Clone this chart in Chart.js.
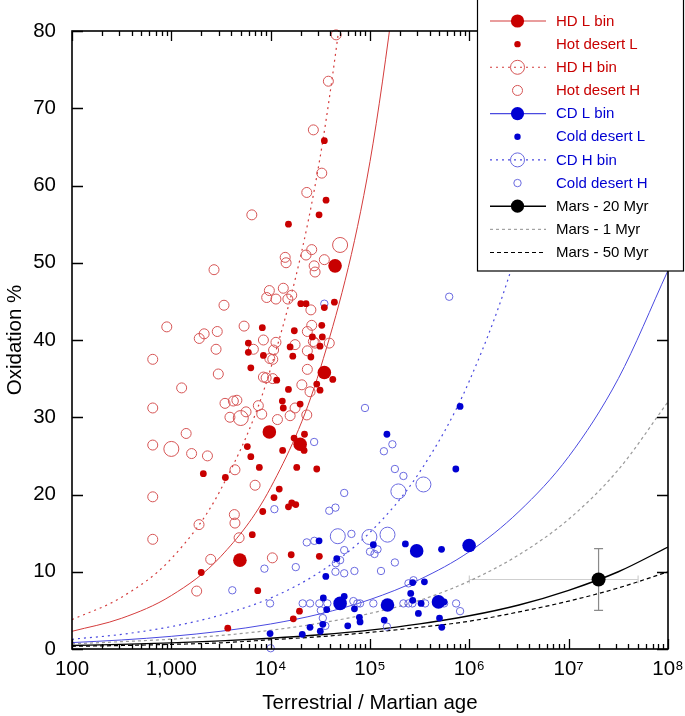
<!DOCTYPE html>
<html><head><meta charset="utf-8">
<script src="https://cdn.jsdelivr.net/npm/chart.js@4.4.1/dist/chart.umd.min.js"></script>
<style>html,body{margin:0;padding:0;background:#fff}#wrap{width:685px;height:716px;position:relative}</style>
</head><body><div id="wrap"><canvas id="c" width="685" height="716"></canvas></div>
<script>
// ---------- tick labels ----------
const xTickValues = [100, 1000, 1e4, 1e5, 1e6, 1e7, 1e8];
const xTickLabels = ['100', '1,000', '10\u2074', '10\u2075', '10\u2076', '10\u2077', '10\u2078'];
const yTickValues = [0, 10, 20, 30, 40, 50, 60, 70, 80];

// ---------- Hot desert H (open red) ----------
const hotHAge = [45600,38100,26900,32700,23100,6460,25900,22700,14000,14300,27400,28000,34700,2690,9700,13400,9120,11300,16300,14900,3390,25400,900,1910,2140,2900,5400,8450,11300,25900,23400,26900,38900,17600,2820,650,1270,650,650,1410,1600,2310,2970,3470,4210,4570,3890,5650,4370,7510,6700,10700,10500,9800,8450,9000,10500,8130,11700,15700,17600,23100,20600,24900,23400,23400,28000,6970,650,650,4310,4370,1900,4810,2490,10400,1800];
const hotHOx  = [79.5,73.5,67.2,61.6,59.1,56.2,51.7,51.0,50.7,50.0,49.6,48.8,50.4,49.1,46.4,46.7,45.5,45.3,45.8,45.3,44.5,43.9,41.7,40.2,40.8,41.1,41.8,40.0,39.7,41.9,41.1,39.8,39.6,39.4,38.8,37.5,33.8,31.2,26.4,27.9,25.3,25.0,35.6,31.8,32.1,32.2,30.0,30.7,23.2,31.5,38.8,38.7,37.5,37.6,35.2,35.1,35.0,30.4,29.7,30.2,31.2,30.3,34.2,33.3,36.2,38.6,39.6,21.2,19.7,14.2,17.4,16.3,16.1,14.4,11.6,11.8,7.5];

// ---------- Hot desert L (filled red) ----------
const hotLAge = [34700,36100,30700,15100,43800,20100,22700,34700,8240,17300,32700,26300,33100,5960,15700,31400,5960,8450,6310,16700,25400,11500,15100,29100,31400,42200,13100,13400,19800,17200,21900,21700,13200,5820,6310,7690,2100,3500,18300,29100,12200,10800,8320,15100,16300,17900,6530,2000,16100,30900,7410,3700,19500,16900];
const hotLOx  = [65.8,58.1,56.2,55.0,44.9,44.7,44.7,44.2,41.6,41.2,41.9,40.4,40.4,39.6,39.1,39.2,38.4,38.0,36.4,37.9,37.8,34.8,33.6,34.3,33.5,34.9,32.1,31.2,31.7,27.3,27.8,25.7,25.7,26.2,24.9,23.5,22.7,22.2,23.5,23.3,20.7,19.6,17.8,18.4,18.9,18.7,14.8,9.9,12.2,12.0,7.55,2.7,4.9,3.9];

// ---------- HD bins ----------
const hdLBinAge = [4900, 9700, 19800, 34700, 44500];
const hdLBinOx  = [11.5, 28.1, 26.5, 35.8, 49.6];
const hdHBinAge = [1000, 5000, 50000];
const hdHBinOx  = [25.9, 29.9, 52.3];

// ---------- Cold desert H (open blue) ----------
const coldHAge = [89000,168000,138000,178000,217000,55000,38900,44900,10900,27400,23100,65000,55000,8650,17900,45300,50000,44900,55000,69700,100000,111000,119000,178000,129000,9860,21000,24900,30900,37200,32000,33500,35500,68000,74600,79400,108000,217000,244000,267000,274000,244000,148000,736000,807000,557000,10000,27500,4110,359000,627000,34700];
const coldHOx  = [31.2,26.5,25.6,23.3,22.4,20.2,17.9,18.3,18.1,26.8,13.8,14.9,12.8,10.4,10.6,11.1,11.5,10.0,9.8,10.1,12.6,12.3,12.9,11.2,10.1,5.9,5.9,5.9,5.9,5.9,5.0,4.0,3.0,6.2,5.9,5.9,5.9,5.9,5.9,5.9,8.9,8.5,2.9,5.9,4.9,5.9,0.1,14.0,7.6,5.9,45.6,44.7];

// ---------- Cold desert L (filled blue) ----------
const coldLAge = [807000,148000,731000,30700,108000,227000,525000,46300,35900,269000,353000,257000,269000,327000,33900,36700,55000,69700,78200,79400,59700,139000,307000,501000,528000,33500,31600,24900,20800,9860,557000];
const coldLOx  = [31.4,27.8,23.3,14.0,13.5,13.6,12.9,11.7,9.4,8.6,8.7,7.2,6.3,5.9,6.6,5.1,6.8,5.2,4.1,3.5,3.0,3.75,4.6,4.0,2.8,3.2,2.3,2.8,1.9,2.0,6.1];

// ---------- CD bins ----------
const cdLBinAge = [50000, 150000, 295000, 489000, 995000];
const cdLBinOx  = [5.9, 5.7, 12.7, 6.1, 13.4];
const cdHBinAge = [47400, 98600, 150000, 193000, 345000];
const cdHBinOx  = [14.6, 14.5, 14.8, 20.4, 21.3];

// ---------- fitted curves ----------
const curveAge   = [100, 316, 1000, 3160, 1e4, 31600, 1e5, 316000, 1e6, 3.16e6, 1e7, 3.16e7, 1e8];
const hdLFit     = [2.29, 3.98, 6.92, 12.0, 20.9, 36.3, 63.1, 110];
const hdHFit     = [3.8, 6.7, 11.7, 20.7, 36.3, 63.8, 112];
const cdLFit     = [0.83, 1.17, 1.64, 2.3, 3.24, 4.55, 6.4, 9.0, 12.6, 17.8, 24.9, 35.0, 49];
const cdHFit     = [1.26, 1.9, 2.9, 4.4, 6.6, 10, 15.1, 22.9, 34.7, 52.5, 79.4, 120];
const mars20Fit  = [0.45, 0.6, 0.79, 1.05, 1.4, 1.85, 2.45, 3.25, 4.3, 5.7, 7.6, 10.0, 13.2];
const mars1Fit   = [0.67, 0.95, 1.27, 1.75, 2.43, 3.35, 4.6, 6.3, 8.8, 12.2, 16.8, 23.2, 32];
const mars50Fit  = [0.35, 0.45, 0.6, 0.8, 1.2, 1.6, 2.15, 2.8, 3.6, 4.8, 6.2, 7.9, 10.0];

// ---------- Mars ----------
const marsAge = [2e7];
const marsOx = [9];
const marsOxRange = [5, 13];
const marsAgeRange = [1e6, 5e7];

const legendLabels = ['HD L bin','Hot desert L','HD H bin','Hot desert H','CD L bin','Cold desert L','CD H bin','Cold desert H','Mars - 20 Myr','Mars - 1 Myr','Mars - 50 Myr'];

// ---------- styles ----------
const RED = '#c80000', RED_OPEN = '#d65555', RED_LINE = '#d43c3c';
const BLUE = '#0000d2', BLUE_OPEN = '#6a6ae0', BLUE_LINE = '#4a4ae0';
const GREY = '#9a9a9a';
const FONT = "'Liberation Sans', Arial, Helvetica, sans-serif";

const pts = (xs, ys) => ys.map((y, i) => ({x: xs[i], y}));

function scatterDS(label, xs, ys, r, fill, stroke, bw) {
  return {type:'scatter', label, data: pts(xs, ys), pointRadius: r, pointHoverRadius: r,
    pointBackgroundColor: fill, pointBorderColor: stroke, pointBorderWidth: bw, showLine:false, clip:false};
}
function lineDS(label, ys, color, dash, width) {
  return {type:'line', label, data: pts(curveAge, ys), borderColor: color, borderWidth: width || 1,
    borderDash: dash || [], pointRadius: 0, fill:false, cubicInterpolationMode:'monotone'};
}

const datasets = [
  scatterDS('Mars', marsAge, marsOx, 7, '#000', '#000', 0),
  scatterDS('HD L bin', hdLBinAge, hdLBinOx, 6.8, RED, RED, 0),
  scatterDS('CD L bin', cdLBinAge, cdLBinOx, 6.8, BLUE, BLUE, 0),
  scatterDS('Hot desert L', hotLAge, hotLOx, 3.4, RED, RED, 0),
  scatterDS('Cold desert L', coldLAge, coldLOx, 3.4, BLUE, BLUE, 0),
  scatterDS('HD H bin', hdHBinAge, hdHBinOx, 7.5, 'rgba(0,0,0,0)', RED_OPEN, 1),
  scatterDS('CD H bin', cdHBinAge, cdHBinOx, 7.5, 'rgba(0,0,0,0)', BLUE_OPEN, 1),
  scatterDS('Hot desert H', hotHAge, hotHOx, 5, 'rgba(0,0,0,0)', RED_OPEN, 1),
  scatterDS('Cold desert H', coldHAge, coldHOx, 3.7, 'rgba(0,0,0,0)', BLUE_OPEN, 1),
  lineDS('HD L fit', hdLFit, RED_LINE, [], 1),
  lineDS('HD H fit', hdHFit, RED_LINE, [2, 4], 1.2),
  lineDS('CD L fit', cdLFit, BLUE_LINE, [], 1),
  lineDS('CD H fit', cdHFit, BLUE_LINE, [2, 4], 1.2),
  lineDS('Mars 20 Myr', mars20Fit, '#000', [], 1.4),
  lineDS('Mars 1 Myr', mars1Fit, GREY, [3, 3], 1.2),
  lineDS('Mars 50 Myr', mars50Fit, '#000', [4, 3], 1.2),
];

function marker(ctx, x, y, r, fill, stroke, lw) {
  ctx.beginPath(); ctx.arc(x, y, r, 0, Math.PI * 2);
  if (fill) { ctx.fillStyle = fill; ctx.fill(); }
  if (stroke) { ctx.strokeStyle = stroke; ctx.lineWidth = lw || 1; ctx.stroke(); }
}

const decor = {
  id: 'decor',
  beforeDatasetsDraw(chart) {
    const {ctx, scales: {x, y}} = chart;
    ctx.save();
    const px = x.getPixelForValue(marsAge[0]), py = y.getPixelForValue(marsOx[0]);
    const xl = x.getPixelForValue(marsAgeRange[0]), xr = x.getPixelForValue(marsAgeRange[1]);
    ctx.strokeStyle = '#cfcfcf'; ctx.lineWidth = 1.2;
    ctx.beginPath(); ctx.moveTo(xl, py); ctx.lineTo(xr, py);
    ctx.moveTo(xl, py - 4); ctx.lineTo(xl, py + 4); ctx.moveTo(xr, py - 4); ctx.lineTo(xr, py + 4); ctx.stroke();
    const yl = y.getPixelForValue(marsOxRange[0]), yh = y.getPixelForValue(marsOxRange[1]);
    ctx.strokeStyle = '#8a8a8a'; ctx.lineWidth = 1.2;
    ctx.beginPath(); ctx.moveTo(px, yl); ctx.lineTo(px, yh);
    ctx.moveTo(px - 4.5, yl); ctx.lineTo(px + 4.5, yl); ctx.moveTo(px - 4.5, yh); ctx.lineTo(px + 4.5, yh); ctx.stroke();
    ctx.restore();
  },
  afterDatasetsDraw(chart) {
    const {ctx, chartArea: a, scales: {x, y}} = chart;
    ctx.save();
    ctx.strokeStyle = '#000';
    ctx.lineWidth = 1.3;
    ctx.beginPath();
    for (let d = 2; d <= 8; d++) {
      for (let m = 1; m <= 9; m++) {
        const v = m * Math.pow(10, d);
        if (v > 1e8) break;
        const xp = Math.round(x.getPixelForValue(v)) + 0.5;
        const len = m === 1 ? 10 : 5;
        ctx.moveTo(xp, a.bottom); ctx.lineTo(xp, a.bottom - len);
        ctx.moveTo(xp, a.top); ctx.lineTo(xp, a.top + len);
      }
    }
    yTickValues.forEach(v => {
      const yp = Math.round(y.getPixelForValue(v)) + 0.5;
      ctx.moveTo(a.left, yp); ctx.lineTo(a.left + 11, yp);
      ctx.moveTo(a.right, yp); ctx.lineTo(a.right - 11, yp);
    });
    ctx.stroke();
    ctx.lineWidth = 1.6;
    ctx.strokeRect(a.left, a.top, a.right - a.left, a.bottom - a.top);
    ctx.restore();
  },
  afterDraw(chart) {
    const {ctx} = chart;
    ctx.save();
    const bx = 477, by = 0, bw = 206, bh = 271;
    ctx.fillStyle = '#fff'; ctx.fillRect(bx, by, bw, bh);
    ctx.strokeStyle = '#000'; ctx.lineWidth = 1.2; ctx.strokeRect(bx + 0.5, by - 1, bw, bh + 1);
    const styles = [
      {c: RED, line: RED_LINE, dash: [], m: [6.6, RED, null]},
      {c: RED, m: [3.2, RED, null]},
      {c: RED, line: RED_LINE, dash: [2, 4], m: [7, null, RED_OPEN]},
      {c: RED, m: [5, null, RED_OPEN]},
      {c: BLUE, line: BLUE_LINE, dash: [], m: [6.6, BLUE, null]},
      {c: BLUE, m: [3.2, BLUE, null]},
      {c: BLUE, line: BLUE_LINE, dash: [2, 4], m: [7, null, BLUE_OPEN]},
      {c: BLUE, m: [3.7, null, BLUE_OPEN]},
      {c: '#000', line: '#000', dash: [], lw: 1.4, m: [6.6, '#000', null]},
      {c: '#000', line: GREY, dash: [3, 3]},
      {c: '#000', line: '#000', dash: [4, 3]},
    ];
    ctx.font = '15px ' + FONT;
    ctx.textBaseline = 'middle'; ctx.textAlign = 'left';
    legendLabels.forEach((t, i) => {
      const yy = 21 + i * 23.15;
      const s = styles[i];
      if (s.line) {
        ctx.strokeStyle = s.line; ctx.lineWidth = s.lw || 1.1; ctx.setLineDash(s.dash);
        ctx.beginPath(); ctx.moveTo(490, yy); ctx.lineTo(546, yy); ctx.stroke(); ctx.setLineDash([]);
      }
      if (s.m) marker(ctx, 517.5, yy, s.m[0], s.m[1], s.m[2], 1);
      ctx.fillStyle = s.c; ctx.fillText(t, 556, yy + 0.5);
    });
    ctx.restore();
  }
};

new Chart(document.getElementById('c'), {
  type: 'scatter',
  data: {datasets},
  options: {
    responsive: false, animation: false, devicePixelRatio: 1,
    layout: {padding: {top: 31, right: 17, left: 0, bottom: 0}},
    plugins: {legend: {display: false}, tooltip: {enabled: false}},
    scales: {
      x: {
        type: 'logarithmic', min: 100, max: 1e8,
        afterBuildTicks: s => { s.ticks = xTickValues.map(v => ({value: v, major: true})); },
        afterFit: s => { s.height = 67; s.paddingLeft = 0; s.paddingRight = 0; },
        grid: {display: false, drawTicks: false}, border: {display: false},
        ticks: {autoSkip: false, maxRotation: 0, padding: 8, color: '#000',
          font: {family: FONT, size: 20.5}, callback: (v, i) => xTickLabels[i]},
        title: {display: true, text: 'Terrestrial / Martian age', color: '#000',
          font: {family: FONT, size: 20.5}, padding: {top: 0, bottom: 0}}
      },
      y: {
        type: 'linear', min: 0, max: 80,
        afterBuildTicks: s => { s.ticks = yTickValues.map(v => ({value: v})); },
        afterFit: s => { s.width = 72; s.paddingTop = 0; s.paddingBottom = 0; },
        grid: {display: false, drawTicks: false}, border: {display: false},
        ticks: {padding: 16, color: '#000', font: {family: FONT, size: 20.5}},
        title: {display: true, text: 'Oxidation %', color: '#000',
          font: {family: FONT, size: 20.5}, padding: {top: 3, bottom: 0}}
      }
    }
  },
  plugins: [decor]
});
</script></body></html>
